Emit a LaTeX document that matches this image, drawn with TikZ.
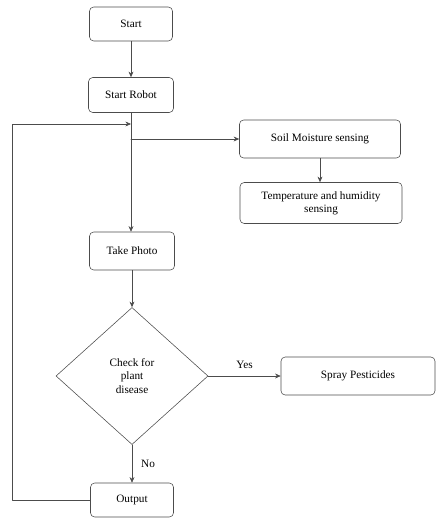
\documentclass[tikz,border=0pt]{standalone}
\usepackage{fontspec}
\setmainfont{Liberation Serif}
\usetikzlibrary{shapes.geometric,arrows.meta}
\begin{document}
\begin{tikzpicture}[x=0.025cm,y=-0.025cm,>={Stealth[length=4pt,width=3.5pt]}, font=\footnotesize, line join=round, line cap=round,
	box/.style={draw=black!70, rounded corners=3pt, align=center, inner sep=1pt},
	decide/.style={draw=black!70, diamond, align=center, inner sep=0pt, minimum width=3.8cm, minimum height=3.425cm},
	flow/.style={->, draw=black!70}]
	\useasboundingbox (0,0) rectangle (436,518);
	\def\lx{12} % loop line
	\node[box, minimum width=2.075cm, minimum height=0.85cm] (start) at (131,24) {Start};
	\node[box, minimum width=2.125cm, minimum height=0.875cm] (robot) at (131,95) {Start Robot};
	\node[box, minimum width=4.025cm, minimum height=0.95cm] (soil) at (320,139) {Soil Moisture sensing};
	\node[box, minimum width=4.05cm, minimum height=1.025cm] (temp) at (321,203) {Temperature and humidity\\ sensing};
	\node[box, minimum width=2.125cm, minimum height=0.95cm] (photo) at (132,251) {Take Photo};
	\node[decide] (check) at (132,376) {Check for\\ plant\\ disease};
	\node[box, minimum width=3.85cm, minimum height=0.95cm] (spray) at (358,376) {Spray Pesticides};
	\node[box, minimum width=2.075cm, minimum height=0.85cm] (output) at (132,500) {Output};
	\coordinate (loopin) at (131,124);
	\coordinate (left) at (\lx,124);
	\draw[flow] (start) -- (robot);
	\draw[flow] (robot.south) -- (robot.south |- photo.north);
	\draw[flow] (robot.south |- soil.west) -- (soil.west);
	\draw[flow] (soil.south) -- (soil.south |- temp.north);
	\draw[flow] (photo.south) -- (check.north);
	\draw[flow] (check.east) -- node[above=2pt]{Yes} (spray.west);
	\draw[flow] (check.south) -- node[right=3pt]{No} (output.north);
	\draw[flow] (output.west) -| (left) -- (loopin);
\end{tikzpicture}
\end{document}
